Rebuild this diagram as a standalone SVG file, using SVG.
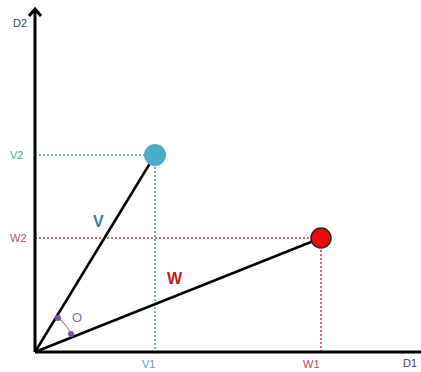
<svg xmlns="http://www.w3.org/2000/svg" width="421" height="372" viewBox="0 0 421 372">
<style>
text{font-family:"Liberation Sans",Arial,sans-serif;font-size:11px}
.ax{stroke:#000;stroke-width:3;fill:none}
.vec{stroke:#000;stroke-width:2.5;fill:none}
.bd{stroke:#4a9bb5;stroke-width:1.5;stroke-dasharray:2 2;fill:none}
.rd{stroke:#d0334a;stroke-width:1.5;stroke-dasharray:2 2;fill:none}
.bl{fill:#5a9cb4}
.rl{fill:#c0485e}
.gl{fill:#444}
</style>
<g id="guides">
<path class="bd" d="M35 155H155M155 155V352"/>
<path class="rd" d="M35 238H321M321 238V352"/>
</g>
<g id="connectors">
<path class="ax" d="M35 352V9"/>
<path class="ax" d="M29 16L35 9L41 16"/>
<path class="ax" d="M35 352H421"/>
<path class="vec" d="M35 352L155 155"/>
<path class="vec" d="M35 352L321 238"/>
<path d="M58 318A40 40 0 0 1 71 334" stroke="#a58ac8" stroke-width="1.2" fill="none"/>
<circle cx="58" cy="318" r="3" fill="#7a4fb0"/>
<circle cx="71" cy="334" r="3" fill="#7a4fb0"/>
</g>
<g id="nodeV"><circle cx="155" cy="155" r="11" fill="#4aaec9"/></g>
<g id="nodeW"><circle cx="321" cy="238" r="10" fill="#ee0a0a" stroke="#222" stroke-width="1.5"/></g>
<g id="labels">
<text x="13" y="27" class="gl">D2</text>
<text x="403" y="367" class="gl">D1</text>
<text x="10" y="159" class="bl">V2</text>
<text x="10" y="242" class="rl">W2</text>
<text x="142" y="368" class="bl">V1</text>
<text x="303" y="368" class="rl">W1</text>
<text x="93" y="227" style="font-size:16px;font-weight:bold;fill:#3b7d92">V</text>
<text x="167" y="284" style="font-size:16px;font-weight:bold;fill:#c41a22">W</text>
<text x="72" y="322" style="font-size:13px;fill:#8a6cb0">O</text>
</g>
</svg>
